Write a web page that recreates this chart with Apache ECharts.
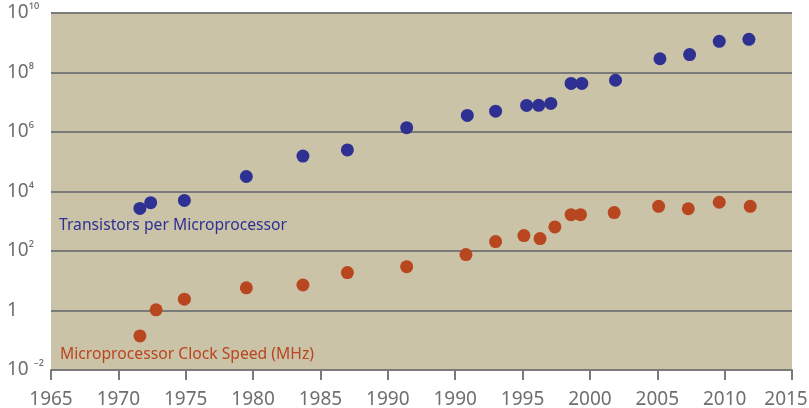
<!DOCTYPE html>
<html>
<head>
<meta charset="utf-8">
<script src="https://cdn.jsdelivr.net/npm/echarts@6/dist/echarts.min.js"></script>
<style>
  html, body { margin: 0; padding: 0; background: #fff; }
  #chart { width: 809px; height: 408px; }
</style>
</head>
<body>
<div id="chart"></div>
<script>
// axis runs 1960..2015 in steps of 5, the printed labels repeat 1990 like the original
const xTickLabels = ['1965', '1970', '1975', '1980', '1985', '1990', '1990', '1995', '2000', '2005', '2010', '2015'];

// transistors per microprocessor
const transistorYears = [1966.6, 1967.4, 1969.9, 1974.5, 1978.7, 1982.0, 1986.4, 1990.9, 1993.0, 1995.3, 1996.2, 1997.1, 1998.6, 1999.4, 2001.9, 2005.2, 2007.4, 2009.6, 2011.8];
const transistorCounts = [2700, 4200, 5000, 32000, 155000, 250000, 1400000, 3600000, 5000000, 7800000, 7900000, 9100000, 43000000, 43000000, 55000000, 290000000, 400000000, 1120000000, 1300000000];

// clock speed in MHz
const clockYears = [1966.6, 1967.8, 1969.9, 1974.5, 1978.7, 1982.0, 1986.4, 1990.8, 1993.0, 1995.1, 1996.3, 1997.4, 1998.6, 1999.3, 2001.8, 2005.1, 2007.3, 2009.6, 2011.9];
const clockMHz = [0.14, 1.05, 2.4, 5.8, 7.2, 18.8, 29.7, 76, 207, 329, 261, 646, 1660, 1660, 1950, 3170, 2630, 4350, 3170];

const blue = '#2e3192';
const orange = '#b8461f';
const grey = '#6f6f6f';

const chart = echarts.init(document.getElementById('chart'));

const supMap = { '-': '⁻', '0': '⁰', '1': '¹', '2': '²', '4': '⁴', '6': '⁶', '8': '⁸' };

const option = {
    animation: false,
    textStyle: { fontFamily: 'Noto Sans' },
    grid: {
        left: 51, right: 17, top: 13, bottom: 38,
        outerBoundsMode: 'none',
        show: true, backgroundColor: '#cbc3a8', borderWidth: 0
    },
    xAxis: {
        type: 'value',
        min: 1960, max: 2015, interval: 5,
        axisLine: { show: true, lineStyle: { color: '#7a7a7a', width: 2 } },
        axisTick: { show: true, length: 10, inside: false, lineStyle: { color: '#7a7a7a', width: 2 } },
        splitLine: { show: false },
        axisLabel: {
            margin: 20, fontSize: 19, color: grey,
            formatter: v => {
                const idx = Math.round((v - 1960) / 5);
                // last label is nudged left so it stays on the canvas
                return idx === xTickLabels.length - 1 ? '{r|' + xTickLabels[idx] + '}' : xTickLabels[idx];
            },
            rich: {
                r: { fontSize: 19, color: grey, fontFamily: 'Noto Sans', padding: [0, 12, 0, 0] }
            }
        }
    },
    yAxis: {
        type: 'log',
        logBase: 100,
        min: 0.01, max: 1e10,
        splitNumber: 6,
        axisLine: { show: false },
        axisTick: { show: false },
        splitLine: { show: true, lineStyle: { color: '#7a7a7a', width: 2 } },
        axisLabel: {
            align: 'left', margin: 44, color: grey,
            formatter: v => {
                const e = Math.round(Math.log10(v));
                if (e === 0) return '{b|1}';
                if (e < 0) return '{b|10 }{s|' + String(e).split('').map(c => supMap[c]).join('') + '}';
                return '{b|10}{s|' + String(e).split('').map(c => supMap[c]).join('') + '}';
            },
            rich: {
                b: { fontSize: 19, color: grey, fontFamily: 'Noto Sans' },
                s: { fontSize: 15, color: grey, fontFamily: 'Noto Sans', padding: [0, 0, 4, 0] }
            }
        }
    },
    graphic: [
        { type: 'text', left: 59, top: 218, style: { text: 'Transistors per Microprocessor', fill: blue, font: '15.7px "Noto Sans"' } },
        { type: 'text', left: 60, top: 347, style: { text: 'Microprocessor Clock Speed (MHz)', fill: orange, font: '15.7px "Noto Sans"' } }
    ],
    series: [
        {
            name: 'Transistors per Microprocessor',
            type: 'scatter',
            symbolSize: 13,
            itemStyle: { color: blue, opacity: 1 },
            data: transistorYears.map((y, i) => [y, transistorCounts[i]])
        },
        {
            name: 'Microprocessor Clock Speed (MHz)',
            type: 'scatter',
            symbolSize: 13,
            itemStyle: { color: orange, opacity: 1 },
            data: clockYears.map((y, i) => [y, clockMHz[i]])
        }
    ]
};

chart.setOption(option);
</script>
</body>
</html>
